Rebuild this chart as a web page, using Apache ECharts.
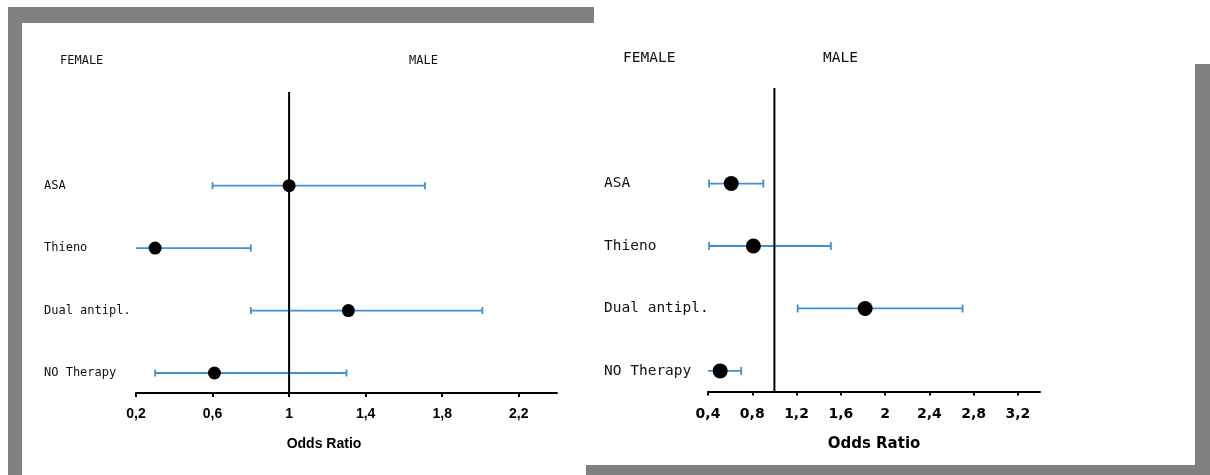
<!DOCTYPE html>
<html>
<head>
<meta charset="utf-8">
<script src="https://cdn.jsdelivr.net/npm/echarts@6/dist/echarts.min.js"></script>
<style>
  html, body { margin: 0; padding: 0; background: #ffffff; }
  #chart { width: 1210px; height: 475px; }
</style>
</head>
<body>
<div id="chart"></div>
<script>
// Treatment groups, listed from bottom row to top row
const categories = ['NO Therapy', 'Dual antipl.', 'Thieno', 'ASA'];

// Female panel: odds ratio with 95% CI bounds
const femaleOR   = [0.61, 1.31, 0.30, 1.00];
const femaleLow  = [0.30, 0.80, 0.19, 0.60];
const femaleHigh = [1.30, 2.01, 0.80, 1.71];

// Male panel: odds ratio with 95% CI bounds
const maleOR   = [0.51, 1.82, 0.81, 0.61];
const maleLow  = [0.39, 1.21, 0.41, 0.41];
const maleHigh = [0.70, 2.70, 1.51, 0.90];

// Tick labels on the odds-ratio axes
const femaleTicks = [0.2, 0.6, 1, 1.4, 1.8, 2.2];
const maleTicks   = [0.4, 0.8, 1.2, 1.6, 2, 2.4, 2.8, 3.2];

const BLUE = '#3f8fd3';
const GREY = '#808080';
const TEXT = '#111111';
const MONO = '"DejaVu Sans Mono", "Liberation Mono", monospace';

const rowIdx = categories.map((_, i) => i);

function ciData(low, high) {
  return rowIdx.map(i => [i, low[i], high[i]]);
}
function pointData(or) {
  return rowIdx.map(i => [or[i], i]);
}

function errorBar(capHalf, lineWidth) {
  return function (params, api) {
    const y = api.value(0);
    const a = api.coord([api.value(1), y]);
    const b = api.coord([api.value(2), y]);
    const style = { stroke: BLUE, lineWidth: lineWidth };
    return {
      type: 'group',
      children: [
        { type: 'line', shape: { x1: a[0], y1: a[1], x2: b[0], y2: b[1] }, style: style },
        { type: 'line', shape: { x1: a[0], y1: a[1] - capHalf, x2: a[0], y2: a[1] + capHalf }, style: style },
        { type: 'line', shape: { x1: b[0], y1: b[1] - capHalf, x2: b[0], y2: b[1] + capHalf }, style: style }
      ]
    };
  };
}

const commaFmt = v => String(v).replace('.', ',');

function xAxisDef(gridIndex, min, max, ticks, labelFont, labelSize, nameSize, namePad, nameGap, margin) {
  return {
    type: 'value', gridIndex: gridIndex, min: min, max: max,
    axisLine: { show: true, onZero: false, lineStyle: { color: '#000', width: 2 } },
    axisTick: { show: true, length: 4, customValues: ticks, lineStyle: { color: '#000', width: 2 } },
    splitLine: { show: false },
    axisLabel: {
      customValues: ticks, formatter: commaFmt, margin: margin,
      color: '#000', fontFamily: labelFont, fontWeight: 'bold', fontSize: labelSize
    },
    name: 'Odds Ratio', nameLocation: 'middle', nameGap: nameGap,
    nameTextStyle: {
      color: '#000', fontFamily: labelFont, fontWeight: 'bold', fontSize: nameSize,
      padding: namePad
    }
  };
}

function yAxisDef(gridIndex, min, max, margin, size) {
  return {
    type: 'value', gridIndex: gridIndex, min: min, max: max,
    axisLine: { show: false, onZero: false }, axisTick: { show: false }, splitLine: { show: false },
    axisLabel: {
      customValues: rowIdx, formatter: v => categories[Math.round(v)],
      align: 'left', margin: margin, color: TEXT, fontFamily: MONO, fontSize: size
    }
  };
}

const chart = echarts.init(document.getElementById('chart'), null, { renderer: 'canvas' });

chart.setOption({
  animation: false,
  backgroundColor: '#ffffff',
  graphic: [
    // frame strips around the two panels
    { type: 'rect', shape: { x: 8, y: 7, width: 586, height: 16 }, style: { fill: GREY }, z: -1 },
    { type: 'rect', shape: { x: 8, y: 7, width: 14, height: 468 }, style: { fill: GREY }, z: -1 },
    { type: 'rect', shape: { x: 1195, y: 64, width: 15, height: 411 }, style: { fill: GREY }, z: -1 },
    { type: 'rect', shape: { x: 586, y: 465, width: 624, height: 10 }, style: { fill: GREY }, z: -1 },
    // panel headers
    { type: 'text', x: 60, y: 61, style: { text: 'FEMALE', fill: TEXT, font: '12px ' + MONO, verticalAlign: 'middle' } },
    { type: 'text', x: 409, y: 61, style: { text: 'MALE', fill: TEXT, font: '12px ' + MONO, verticalAlign: 'middle' } },
    { type: 'text', x: 623, y: 58, style: { text: 'FEMALE', fill: TEXT, font: '14.5px ' + MONO, verticalAlign: 'middle' } },
    { type: 'text', x: 823, y: 58, style: { text: 'MALE', fill: TEXT, font: '14.5px ' + MONO, verticalAlign: 'middle' } }
  ],
  grid: [
    { left: 136, top: 92, width: 421, height: 301 },
    { left: 708, top: 88, width: 332, height: 303.5 }
  ],
  xAxis: [
    xAxisDef(0, 0.2, 2.4, femaleTicks, '"Liberation Sans", Arial, sans-serif', 14, 14, [0, 45, 0, 0], 44, 14),
    xAxisDef(1, 0.4, 3.4, maleTicks, '"DejaVu Sans", sans-serif', 14, 15, [0, 0, 0, 0], 45, 16)
  ],
  yAxis: [
    yAxisDef(0, -0.32, 4.5, 92, 12),
    yAxisDef(1, -0.33, 4.53, 104, 14.5)
  ],
  series: [
    {
      type: 'custom', xAxisIndex: 0, yAxisIndex: 0, clip: true, z: 2,
      renderItem: errorBar(3.5, 1.8), encode: { x: [1, 2], y: 0 },
      data: ciData(femaleLow, femaleHigh)
    },
    {
      type: 'line', xAxisIndex: 0, yAxisIndex: 0, symbol: 'none', silent: true, z: 3,
      lineStyle: { color: '#000', width: 2 }, data: [[1, -0.32], [1, 4.5]]
    },
    {
      type: 'scatter', xAxisIndex: 0, yAxisIndex: 0, symbolSize: 13, z: 4,
      itemStyle: { color: '#000', opacity: 1 }, data: pointData(femaleOR)
    },
    {
      type: 'custom', xAxisIndex: 1, yAxisIndex: 1, clip: true, z: 2,
      renderItem: errorBar(4, 1.8), encode: { x: [1, 2], y: 0 },
      data: ciData(maleLow, maleHigh)
    },
    {
      type: 'line', xAxisIndex: 1, yAxisIndex: 1, symbol: 'none', silent: true, z: 3,
      lineStyle: { color: '#000', width: 2 }, data: [[1, -0.33], [1, 4.53]]
    },
    {
      type: 'scatter', xAxisIndex: 1, yAxisIndex: 1, symbolSize: 15, z: 4,
      itemStyle: { color: '#000', opacity: 1 }, data: pointData(maleOR)
    }
  ]
});
</script>
</body>
</html>
